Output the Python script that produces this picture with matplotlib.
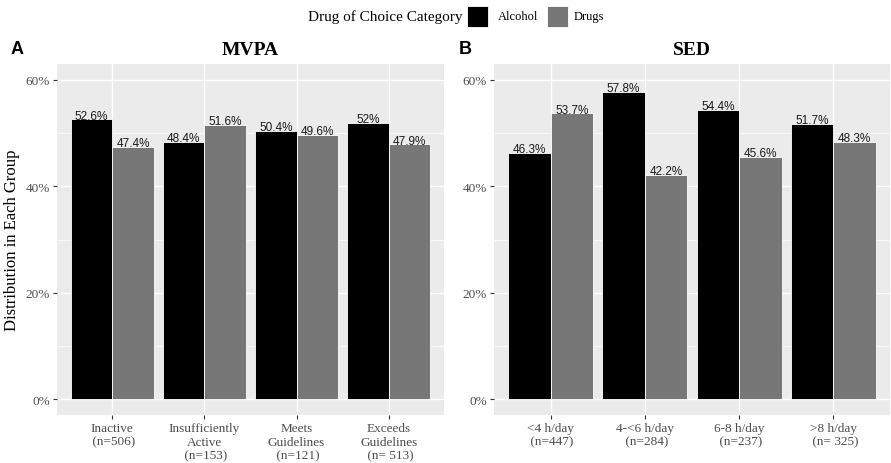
import numpy as np
import matplotlib
matplotlib.use("Agg")
from matplotlib import pyplot as plt
from matplotlib.patches import Rectangle

# data
mvpa_cats = ['Inactive\n (n=506)', 'Insufficiently\nActive\n (n=153)',
             'Meets\nGuidelines\n (n=121)', 'Exceeds\nGuidelines\n (n= 513)']
mvpa_alcohol = [52.6, 48.4, 50.4, 52.0]
mvpa_drugs = [47.4, 51.6, 49.6, 47.9]
mvpa_alc_lbl = ['52.6%', '48.4%', '50.4%', '52%']
mvpa_drg_lbl = ['47.4%', '51.6%', '49.6%', '47.9%']

sed_cats = ['<4 h/day\n (n=447)', '4-<6 h/day\n (n=284)',
            '6-8 h/day\n (n=237)', '>8 h/day\n (n= 325)']
sed_alcohol = [46.3, 57.8, 54.4, 51.7]
sed_drugs = [53.7, 42.2, 45.6, 48.3]
sed_alc_lbl = ['46.3%', '57.8%', '54.4%', '51.7%']
sed_drg_lbl = ['53.7%', '42.2%', '45.6%', '48.3%']

serif = 'Liberation Serif'
sans = 'Liberation Sans'
c_alc = '#000000'
c_drg = '#777777'
bg = '#EBEBEB'

fig = plt.figure(figsize=(8.91, 4.64), dpi=100)
axA = fig.add_axes([57/891, 1-416/464, (444-57)/891, (416-65)/464])
axB = fig.add_axes([494/891, 1-416/464, (890-494)/891, (416-65)/464])


def panel(ax, cats, alc, drg, alc_lbl, drg_lbl, title, ylab=None):
    x = np.arange(len(cats))
    w = 0.45
    ax.set_facecolor(bg)
    ax.bar(x - w/2, alc, width=w, color=c_alc, edgecolor='white', linewidth=0.6, zorder=3)
    ax.bar(x + w/2, drg, width=w, color=c_drg, edgecolor='white', linewidth=0.6, zorder=3)
    for xi, v, s in zip(x - w/2, alc, alc_lbl):
        ax.text(xi, v + 0.15, s, ha='center', va='baseline', fontsize=8.5, family=sans, color='#1A1A1A', zorder=4)
    for xi, v, s in zip(x + w/2, drg, drg_lbl):
        ax.text(xi, v + 0.15, s, ha='center', va='baseline', fontsize=8.5, family=sans, color='#1A1A1A', zorder=4)
    ax.set_xlim(-0.6, len(cats) - 0.4)
    ax.set_ylim(-3, 63)
    ax.set_yticks([0, 20, 40, 60])
    ax.set_yticklabels(['0%', '20%', '40%', '60%'])
    ax.set_yticks([10, 30, 50], minor=True)
    ax.set_xticks(x)
    ax.set_xticklabels(cats)
    ax.grid(True, which='major', color='white', linewidth=1.0, zorder=0)
    ax.grid(True, which='minor', axis='y', color='white', linewidth=0.5, zorder=0)
    ax.set_axisbelow(True)
    for sp in ax.spines.values():
        sp.set_visible(False)
    ax.tick_params(axis='both', which='major', length=3, color='#333333', width=0.8,
                   labelcolor='#4D4D4D', labelsize=9.5, pad=2)
    ax.tick_params(axis='y', which='minor', length=0)
    for lab in ax.get_xticklabels() + ax.get_yticklabels():
        lab.set_family(serif)
    ax.set_title(title, fontsize=14, fontweight='bold', family=serif, pad=7)
    if ylab:
        ax.set_ylabel(ylab, fontsize=12, family=serif, labelpad=4)


panel(axA, mvpa_cats, mvpa_alcohol, mvpa_drugs, mvpa_alc_lbl, mvpa_drg_lbl, 'MVPA',
      ylab='Distribution in Each Group')
panel(axB, sed_cats, sed_alcohol, sed_drugs, sed_alc_lbl, sed_drg_lbl, 'SED')

fig.text(11/891, 1-50/464, 'A', fontsize=13, fontweight='bold', family=sans, va='center', ha='left')
fig.text(459/891, 1-50/464, 'B', fontsize=13, fontweight='bold', family=sans, va='center', ha='left')

# legend
ly = 1 - 17/464
fig.text(462/891, ly, 'Drug of Choice Category', fontsize=11, family=serif, ha='right', va='center')
fig.patches.append(Rectangle((467/891, 1-28/464), 21/891, 21/464, transform=fig.transFigure,
                             facecolor=c_alc, edgecolor='white', linewidth=0.6))
fig.text(498/891, ly, 'Alcohol', fontsize=9, family=serif, ha='left', va='center')
fig.patches.append(Rectangle((547/891, 1-28/464), 21/891, 21/464, transform=fig.transFigure,
                             facecolor=c_drg, edgecolor='white', linewidth=0.6))
fig.text(574/891, ly, 'Drugs', fontsize=9, family=serif, ha='left', va='center')

fig.savefig('out.png', dpi=100)
